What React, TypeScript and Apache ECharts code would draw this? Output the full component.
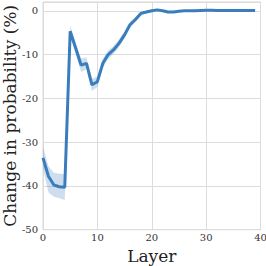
import React, { useEffect, useRef } from "react";
import * as echarts from "echarts";

const layers: number[] = Array.from({ length: 40 }, (_, i) => i);
const meanValues: number[] = [
  -33.6, -37.8, -39.8, -40.2, -40.3, -4.7, -8.5, -12.4, -12.0, -16.9,
  -16.2, -12.0, -10.0, -8.9, -7.4, -5.5, -3.2, -2.0, -0.6, -0.3,
  0.0, 0.2, 0.0, -0.3, -0.3, -0.1, 0.0, 0.0, 0.0, 0.05,
  0.1, 0.1, 0.05, 0.05, 0.05, 0.05, 0.05, 0.05, 0.05, 0.05,
];
const lowerValues: number[] = [
  -36.0, -41.5, -42.5, -42.8, -43.2, -5.9, -9.7, -14.0, -13.3, -18.3,
  -17.4, -13.1, -11.0, -9.8, -8.3, -6.3, -3.9, -2.6, -1.0, -0.6,
  -0.2, 0.0, -0.2, -0.5, -0.5, -0.3, -0.15, -0.1, -0.1, -0.05,
  0.0, 0.0, -0.05, -0.05, -0.05, -0.05, -0.05, -0.05, -0.05, -0.05,
];
const upperValues: number[] = [
  -31.0, -35.5, -37.0, -37.2, -37.3, -3.5, -7.3, -10.9, -10.7, -15.5,
  -15.0, -10.9, -9.0, -8.0, -6.5, -4.7, -2.5, -1.4, -0.2, 0.0,
  0.2, 0.4, 0.2, -0.1, -0.1, 0.1, 0.15, 0.1, 0.1, 0.15,
  0.2, 0.2, 0.15, 0.15, 0.15, 0.15, 0.15, 0.15, 0.15, 0.15,
];
const xTicks: number[] = [0, 10, 20, 30, 40];
const yTicks: number[] = [-50, -40, -30, -20, -10, 0];

const FONT = "DejaVu Serif";
const LINE = "#3a7dbd";

export default function App() {
  const ref = useRef<HTMLDivElement>(null);
  useEffect(() => {
    if (!ref.current) return;
    const chart = echarts.init(ref.current, undefined, { renderer: "svg" });
    const mean = layers.map((x, i) => [x, meanValues[i]]);
    chart.setOption({
      animation: false,
      backgroundColor: "#ffffff",
      textStyle: { fontFamily: FONT },
      grid: {
        left: 43,
        right: 5.5,
        top: 2,
        bottom: 36.3,
        show: true,
        borderColor: "#d6d6d6",
        borderWidth: 1,
        outerBoundsMode: "none",
        containLabel: false,
      },
      xAxis: {
        type: "value",
        min: 0,
        max: 40,
        interval: 10,
        name: "Layer",
        nameLocation: "middle",
        nameGap: 15,
        nameTextStyle: { fontFamily: FONT, fontSize: 17, color: "#222" },
        axisLine: { show: false },
        axisTick: { show: false },
        axisLabel: {
          fontFamily: FONT,
          fontSize: 10,
          color: "#333",
          margin: 3,
          formatter: (v: number) => (xTicks.includes(v) ? String(v) : ""),
        },
        splitLine: { show: true, lineStyle: { color: "#dcdcdc", width: 1 } },
      },
      yAxis: {
        type: "value",
        min: -50,
        max: 2,
        interval: 10,
        name: "Change in probability (%)",
        nameLocation: "middle",
        nameGap: 24.5,
        nameMoveOverlap: false,
        nameTextStyle: { fontFamily: FONT, fontSize: 17, color: "#222" },
        axisLine: { show: false },
        axisTick: { show: false },
        axisLabel: {
          fontFamily: FONT,
          fontSize: 10,
          color: "#333",
          margin: 5,
          formatter: (v: number) => (yTicks.includes(v) ? String(v) : ""),
        },
        splitLine: { show: true, lineStyle: { color: "#dcdcdc", width: 1 } },
      },
      series: [
        {
          type: "custom",
          data: layers.map((x) => [x]),
          clip: true,
          z: 1,
          renderItem: (params: any, api: any) => {
            if (params.dataIndex !== 0) return null;
            const up = layers.map((x, i) => api.coord([x, upperValues[i]]));
            const lo = layers
              .map((x, i) => api.coord([x, lowerValues[i]]))
              .reverse();
            return {
              type: "polygon",
              shape: { points: up.concat(lo) },
              style: { fill: "rgba(58,125,189,0.25)", stroke: "none" },
            };
          },
        },
        {
          type: "line",
          data: mean,
          symbol: "none",
          lineStyle: { color: LINE, width: 3 },
          z: 3,
        },
      ],
    });
    return () => chart.dispose();
  }, []);
  return (
    <div
      ref={ref}
      style={{ position: "fixed", left: 0, top: 0, width: 266, height: 266 }}
    />
  );
}
